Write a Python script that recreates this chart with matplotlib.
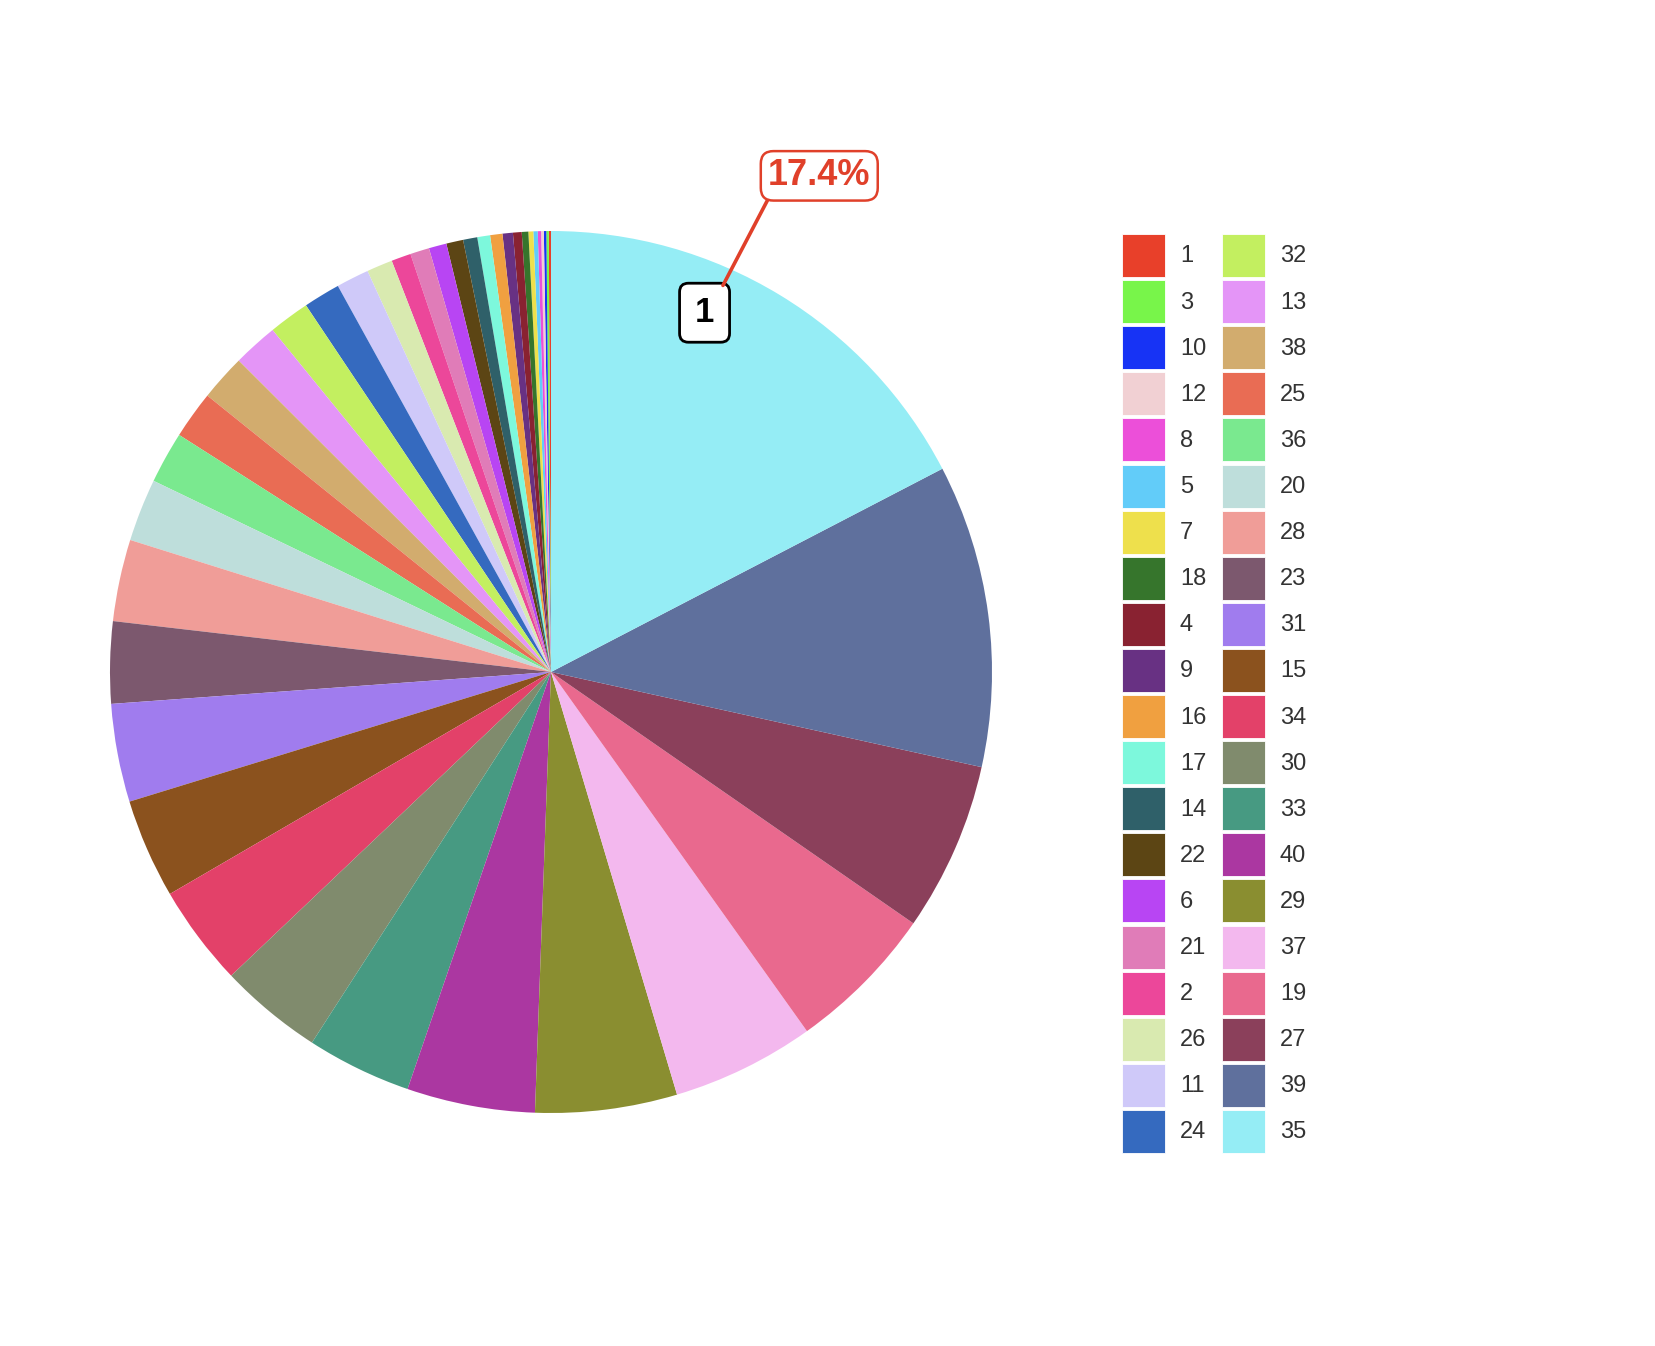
import matplotlib.pyplot as plt
import numpy as np
from matplotlib.patches import Rectangle, FancyBboxPatch

plt.rcParams['font.family'] = ['Liberation Sans', 'DejaVu Sans']

# slices in ascending order (also the legend order)
labels = ['1', '3', '10', '12', '8', '5', '7', '18', '4', '9',
          '16', '17', '14', '22', '6', '21', '2', '26', '11', '24',
          '32', '13', '38', '25', '36', '20', '28', '23', '31', '15',
          '34', '30', '33', '40', '29', '37', '19', '27', '39', '35']
values = [0.08, 0.09, 0.09, 0.10, 0.12, 0.16, 0.18, 0.24, 0.32, 0.38,
          0.45, 0.47, 0.52, 0.62, 0.65, 0.70, 0.72, 0.95, 1.20, 1.35,
          1.50, 1.65, 1.70, 1.75, 1.90, 2.30, 3.00, 3.00, 3.60, 3.65,
          3.70, 3.80, 3.85, 4.70, 5.20, 5.25, 5.50, 6.20, 11.10, 17.40]
colors = ['#E8402A', '#78F54A', '#1733F5', '#F1D0D3', '#EC4FD9', '#62CCF9', '#EEE04C', '#36752C', '#892231', '#683183',
          '#F0A040', '#7DF8DC', '#2F6069', '#5C4514', '#B845F3', '#E07CB8', '#EC479A', '#D9EAB0', '#CFC9F9', '#356ABF',
          '#C3EF60', '#E495F7', '#D2AC6E', '#E96C54', '#7AE98F', '#BEDEDB', '#F09D98', '#7C586E', '#A07CEE', '#8B521E',
          '#E34169', '#808B6D', '#479A82', '#AB37A1', '#8A8E30', '#F3B8EE', '#E9698E', '#8B405B', '#5F709D', '#95EDF5']

W, H = 1656, 1346
RED = '#E0402A'

fig = plt.figure(figsize=(W / 100, H / 100), dpi=100)
fig.patch.set_facecolor('white')

# pie: centre (551, 672) px, radius 441 px
cx, cy, r = 551, 672, 441
ax = fig.add_axes([(cx - r) / W, (H - cy - r) / H, 2 * r / W, 2 * r / H])
wedges, _ = ax.pie(values, colors=colors, startangle=90, counterclock=True,
                   radius=1, wedgeprops=dict(linewidth=0))
ax.set_xlim(-1, 1)
ax.set_ylim(-1, 1)
ax.set_aspect('equal')
ax.axis('off')

# annotation for the largest slice
big = int(np.argmax(values))
w = wedges[big]
pct = values[big] / sum(values) * 100
ang = np.deg2rad(w.theta1 + 0.63 * (w.theta2 - w.theta1))
bx, by = 0.886 * np.cos(ang), 0.886 * np.sin(ang)
bw, bh = 50 / r, 59 / r
ax.add_patch(FancyBboxPatch((bx - bw / 2, by - bh / 2), bw, bh,
                            boxstyle='round,pad=0,rounding_size=0.02',
                            facecolor='white', edgecolor='black', linewidth=2, zorder=5))
ax.text(bx, by, str(len(values) - big), ha='center', va='center',
        fontsize=25, fontweight='bold', color='black', zorder=6)

ang2 = np.deg2rad(61.6)
tx, ty = 1.279 * np.cos(ang2), 1.279 * np.sin(ang2)
ax.annotate(f'{pct:.1f}%', xy=(bx + bw / 2 - 0.015, by + bh / 2 - 0.005), xytext=(tx, ty),
            ha='center', va='center', fontsize=26, fontweight='bold', color=RED,
            annotation_clip=False, zorder=7,
            bbox=dict(boxstyle='round,pad=0.2,rounding_size=0.35', facecolor='white',
                      edgecolor=RED, linewidth=1.8),
            arrowprops=dict(arrowstyle='-', color=RED, lw=2.6, shrinkA=0, shrinkB=0,
                            relpos=(0.03, 0.0)))

# legend, two columns of twenty
lg = fig.add_axes([0, 0, 1, 1])
lg.set_xlim(0, W)
lg.set_ylim(H, 0)
lg.axis('off')
rows = 20
col_x = [1122, 1222]
text_x = [1180, 1280]
top, pitch, size = 234, 46.1, 43
for i, (lab, col) in enumerate(zip(labels, colors)):
    c, rr = divmod(i, rows)
    y0 = top + rr * pitch
    lg.add_patch(Rectangle((col_x[c], y0), size, size, facecolor=col,
                           edgecolor='white', linewidth=0.6))
    lg.text(text_x[c], y0 + size / 2 + 1, lab, ha='left', va='center',
            fontsize=17, color='#333333')

fig.savefig('out.png', dpi=100, facecolor='white')
